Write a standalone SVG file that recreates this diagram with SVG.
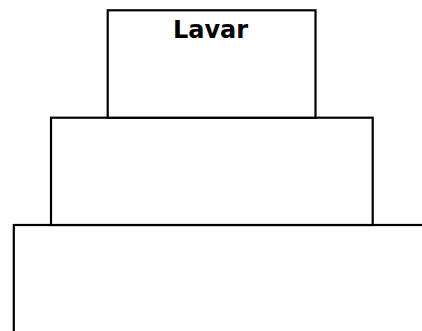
<svg xmlns="http://www.w3.org/2000/svg" width="422" height="331" viewBox="0 0 422 331">
<style>
.box{fill:#fff;stroke:#000;stroke-width:2.2}
.lbl{font-family:"DejaVu Sans",sans-serif;font-weight:bold;font-size:24px;fill:#000;text-anchor:middle}
</style>
<rect width="422" height="331" fill="#fff"/>
<g id="tier3"><rect class="box" x="13.8" y="225" width="430" height="130"/></g>
<g id="tier2"><rect class="box" x="51" y="117.7" width="321.7" height="107.3"/></g>
<g id="tier1"><rect class="box" x="107.7" y="10.3" width="207.8" height="107.4"/>
<text class="lbl" x="210.5" y="38.3">Lavar</text></g>
<g id="connectors"/>
</svg>
